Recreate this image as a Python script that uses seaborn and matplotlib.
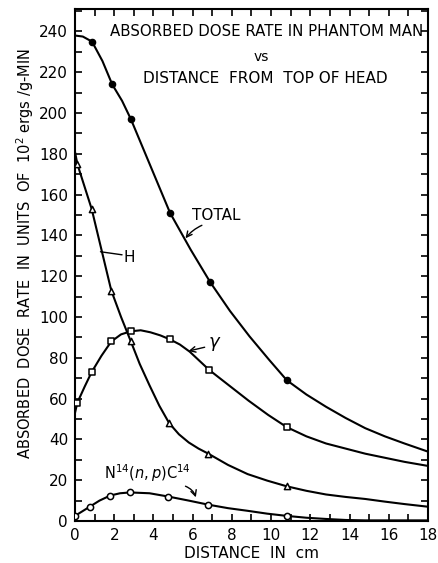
import matplotlib
matplotlib.use("Agg")
import matplotlib.pyplot as plt
import seaborn as sns
import numpy as np

# ---- data ----
# TOTAL (filled circles)
total_mx = [0.87, 1.9, 2.85, 4.85, 6.9, 10.8]
total_my = [235, 214, 197, 151, 117, 69]
total_lx = [0, 0.4, 0.87, 1.4, 1.9, 2.4, 2.85, 3.85, 4.85, 5.9, 6.9, 7.9, 8.9, 9.9,
            10.8, 11.8, 12.8, 13.8, 14.8, 15.8, 16.8, 18]
total_ly = [238, 237.5, 235, 225.5, 214, 206, 197, 174, 151, 133, 117, 103, 90.5, 79,
            69, 62, 56, 50.5, 45.5, 41.5, 38, 34]

# H (open triangles)
h_mx = [0.12, 0.85, 1.85, 2.85, 4.8, 6.8, 10.8]
h_my = [175, 153, 113, 88, 48, 33, 17]
h_lx = [0, 0.12, 0.85, 1.35, 1.85, 2.35, 2.85, 3.3, 3.8, 4.3, 4.8, 5.3, 5.8, 6.3, 6.8,
        7.8, 8.8, 9.8, 10.8, 11.8, 12.8, 13.8, 14.8, 15.8, 16.8, 18]
h_ly = [181, 175, 153, 133, 113, 100, 88, 77, 66.5, 56.5, 48, 42.5, 38.5, 35.5, 33,
        27.5, 23, 19.8, 17, 14.8, 13, 11.8, 10.8, 9.5, 8.3, 7]

# gamma (open squares)
g_mx = [0.12, 0.85, 1.85, 2.85, 4.85, 6.85, 10.8]
g_my = [58, 73, 88, 93, 89, 74, 46]
g_lx = [0, 0.12, 0.5, 0.85, 1.35, 1.85, 2.35, 2.85, 3.35, 3.85, 4.35, 4.85, 5.35, 5.85,
        6.35, 6.85, 7.85, 8.85, 9.85, 10.8, 11.8, 12.8, 13.8, 14.8, 15.8, 16.8, 18]
g_ly = [53, 58, 66, 73, 81, 88, 91.5, 93, 93.5, 92.5, 91, 89, 86.5, 83,
        78.5, 74, 66.5, 59, 52, 46, 41.5, 38, 35.5, 33, 31, 29, 27]

# N14(n,p)C14 (open circles)
n_mx = [0, 0.75, 1.8, 2.8, 4.75, 6.8, 10.8]
n_my = [2.5, 7, 12.5, 14, 12, 8, 2.5]
n_lx = [0, 0.75, 1.25, 1.8, 2.3, 2.8, 3.8, 4.75, 5.8, 6.8, 7.8, 8.8, 9.8, 10.8, 11.8,
        12.8, 13.8, 14.8, 18]
n_ly = [2.5, 7, 10, 12.5, 13.6, 14, 13.6, 12, 10, 8, 6.3, 5, 3.6, 2.5, 1.6,
        1.0, 0.5, 0.3, 0.3]

x_ticks = [0, 2, 4, 6, 8, 10, 12, 14, 16, 18]
y_ticks = [0, 20, 40, 60, 80, 100, 120, 140, 160, 180, 200, 220, 240]

sns.set_style("ticks")
plt.rcParams['font.family'] = ['DejaVu Sans']
plt.rcParams['text.color'] = 'black'
plt.rcParams['xtick.color'] = 'black'
plt.rcParams['ytick.color'] = 'black'
plt.rcParams['xtick.labelcolor'] = 'black'
plt.rcParams['ytick.labelcolor'] = 'black'

fig = plt.figure(figsize=(4.38, 5.63), dpi=100)
ax = fig.add_axes([0.1712, 0.0746, 0.8060, 0.9094])

lw = 1.5
for lx, ly in [(total_lx, total_ly), (h_lx, h_ly), (g_lx, g_ly), (n_lx, n_ly)]:
    sns.lineplot(x=lx, y=ly, ax=ax, color='black', lw=lw, sort=False, estimator=None)

sns.scatterplot(x=total_mx, y=total_my, ax=ax, marker='o', s=20, color='black',
                edgecolor='black', linewidth=1, zorder=5)
sns.scatterplot(x=h_mx, y=h_my, ax=ax, marker='^', s=20, color='white',
                edgecolor='black', linewidth=1.1, zorder=5)
sns.scatterplot(x=g_mx, y=g_my, ax=ax, marker='s', s=18, color='white',
                edgecolor='black', linewidth=1.1, zorder=5)
sns.scatterplot(x=n_mx, y=n_my, ax=ax, marker='o', s=20, color='white',
                edgecolor='black', linewidth=1.1, zorder=5)

ax.set_xlim(0, 18)
ax.set_ylim(0, 251)
ax.set_xticks(x_ticks)
ax.set_yticks(y_ticks)
ax.set_xticks(np.arange(0, 19, 1), minor=True)
ax.set_yticks(np.arange(0, 251, 10), minor=True)
ax.set_xticklabels([str(v) for v in x_ticks])
ax.set_yticklabels([str(v) for v in y_ticks])
ax.tick_params(which='both', direction='in', top=True, right=True, length=5,
               width=1.2, color='black')
ax.tick_params(which='major', labelsize=11, pad=5, labelcolor='black')
for s in ax.spines.values():
    s.set_linewidth(1.5)
    s.set_color('black')
ax.set_xlabel('')
ax.set_ylabel('')

# in-plot title
ax.text(9.75, 240, 'ABSORBED DOSE RATE IN PHANTOM MAN', ha='center', va='center',
        fontsize=10.8, color='black')
ax.text(9.5, 227.5, 'vs', ha='center', va='center', fontsize=10, color='black')
ax.text(9.7, 217, 'DISTANCE  FROM  TOP OF HEAD', ha='center', va='center',
        fontsize=11, color='black')

# curve labels
ax.text(7.2, 150, 'TOTAL', ha='center', va='center', fontsize=11, color='black')
ax.annotate('', xy=(5.55, 137.5), xytext=(6.6, 145.5),
            arrowprops=dict(arrowstyle='->', color='black', lw=1,
                            connectionstyle='arc3,rad=0.15'))
ax.text(2.75, 129, 'H', ha='center', va='center', fontsize=11, color='black')
ax.plot([1.3, 2.4], [132, 130.5], color='black', lw=1)
ax.text(7.1, 87, r'$\gamma$', ha='center', va='center', fontsize=13, color='black')
ax.annotate('', xy=(5.65, 83), xytext=(6.75, 85.5),
            arrowprops=dict(arrowstyle='->', color='black', lw=1))
ax.text(1.5, 23.5, r'N$^{14}$($n,p$)C$^{14}$', ha='left', va='center',
        fontsize=10.5, color='black')
ax.annotate('', xy=(6.2, 10.3), xytext=(5.5, 17.5),
            arrowprops=dict(arrowstyle='->', color='black', lw=1,
                            connectionstyle='arc3,rad=-0.3'))

fig.text(25 / 438, 1 - 253 / 563,
         r'ABSORBED  DOSE  RATE  IN  UNITS  OF  10$^2$ ergs /g-MIN',
         rotation=90, ha='center', va='center', fontsize=10.5, color='black')
fig.text(252 / 438, 1 - 553 / 563, 'DISTANCE  IN  cm', ha='center', va='center',
         fontsize=11, color='black')

fig.savefig('out.png', dpi=100)
